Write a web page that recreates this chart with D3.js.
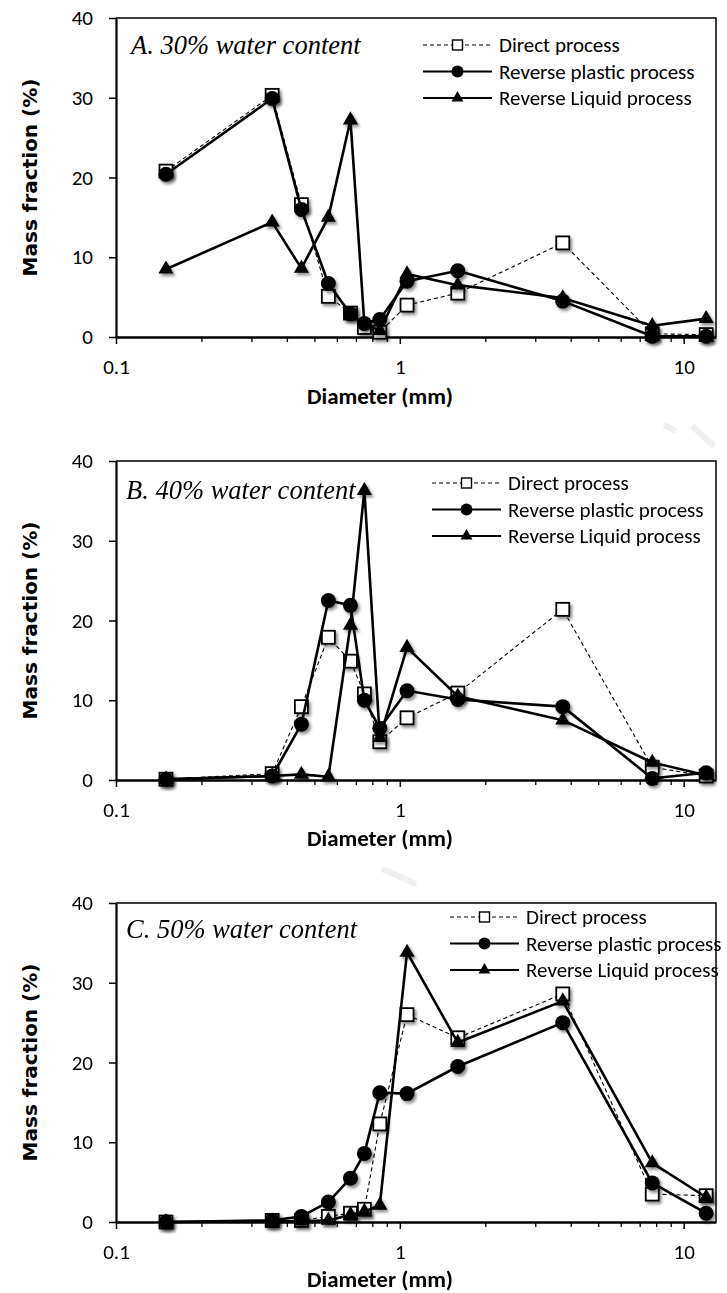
<!DOCTYPE html>
<html>
<head>
<meta charset="utf-8">
<script src="https://cdn.jsdelivr.net/npm/d3@7"></script>
<style>
  body { margin: 0; background: #fff; }
  svg text { font-family: Carlito, Lato, "Open Sans", sans-serif; fill: #000; }
</style>
</head>
<body>
<div id="chart"></div>
<script>
// sieve diameters (mm) shared by all three panels
const diameters = [0.15, 0.355, 0.45, 0.56, 0.67, 0.75, 0.85, 1.06, 1.6, 3.75, 7.75, 12];

const seriesNames = ["Direct process", "Reverse plastic process", "Reverse Liquid process"];
const panelTitles = ["A. 30% water content", "B. 40% water content", "C. 50% water content"];

// A. 30% water content
const directA  = [20.8, 30.3, 16.6, 5.1, 3.0, 1.2, 0.6, 4.0, 5.5, 11.8, 0.4, 0.3];
const plasticA = [20.4, 29.9, 16.0, 6.7, 2.9, 1.7, 2.2, 7.0, 8.3, 4.5, 0.1, 0.1];
const liquidA  = [8.5, 14.4, 8.6, 15.0, 27.2, 1.7, 0.8, 7.9, 6.5, 4.9, 1.4, 2.3];

// B. 40% water content
const directB  = [0.1, 0.8, 9.2, 17.9, 14.9, 10.8, 4.8, 7.8, 10.9, 21.4, 1.6, 0.5];
const plasticB = [0.1, 0.5, 7.0, 22.5, 21.9, 10.0, 6.5, 11.2, 10.1, 9.2, 0.2, 0.9];
const liquidB  = [0.1, 0.5, 0.7, 0.4, 19.4, 36.3, 5.3, 16.6, 10.5, 7.5, 2.2, 0.6];

// C. 50% water content
const directC  = [0.0, 0.2, 0.2, 0.7, 1.1, 1.6, 12.3, 26.0, 23.1, 28.6, 3.5, 3.3];
const plasticC = [0.0, 0.2, 0.7, 2.5, 5.5, 8.6, 16.2, 16.1, 19.5, 25.0, 4.9, 1.1];
const liquidC  = [0.0, 0.1, 0.1, 0.2, 0.9, 1.3, 2.1, 33.8, 22.5, 27.7, 7.4, 3.1];

const yTicks = [0, 10, 20, 30, 40];
const xMajorTicks = [0.1, 1, 10];
const xMinorTicks = [0.2, 0.3, 0.4, 0.5, 0.6, 0.7, 0.8, 0.9, 2, 3, 4, 5, 6, 7, 8, 9];

const panels = [
  {title: panelTitles[0], series: [directA, plasticA, liquidA]},
  {title: panelTitles[1], series: [directB, plasticB, liquidB]},
  {title: panelTitles[2], series: [directC, plasticC, liquidC]}
];

// layout (pixels)
const W = 727, H = 1293;
const plotLeft = 116, plotRight = 716, plotH = 319;
const panelTop = [18, 461, 903];
const legendX = [423, 432, 450];     // start of legend line sample
const legendY = [27, 22, 14];        // first legend row, from panel top
const noteY = [27, 29, 26];
const noteX = [131, 126, 126];
const titleOffset = [59, 58, 57];    // "Diameter (mm)" below the axis

const svg = d3.select("#chart").append("svg")
  .attr("width", W).attr("height", H)
  .attr("viewBox", `0 0 ${W} ${H}`);

// soft shadow like the excel markers
const defs = svg.append("defs");
defs.append("filter").attr("id", "shadow")
  .attr("x", "-50%").attr("y", "-50%").attr("width", "200%").attr("height", "200%")
  .append("feDropShadow")
  .attr("dx", 2).attr("dy", 2.5).attr("stdDeviation", 1.6)
  .attr("flood-color", "#000").attr("flood-opacity", 0.45);

// faint watermark strokes
svg.append("path").attr("d", "M664,425 L676,431 M692,426 L714,446")
  .attr("stroke", "#f0f0f0").attr("stroke-width", 6).attr("fill", "none");
svg.append("path").attr("d", "M382,869 L416,884")
  .attr("stroke", "#f0f0f0").attr("stroke-width", 6).attr("fill", "none");

const x = d3.scaleLog().domain([0.1, 13]).range([plotLeft, plotRight]);

const triangle = d3.symbol().type(d3.symbolTriangle).size(100);
const triangleSmall = d3.symbol().type(d3.symbolTriangle).size(62);

function drawMarkers(g, data, kind) {
  const m = g.append("g").attr("filter", "url(#shadow)");
  if (kind === 0) {
    m.selectAll("rect").data(data).join("rect")
      .attr("x", d => x(d.d) - 6.5).attr("y", d => d.yy - 6.5)
      .attr("width", 13).attr("height", 13)
      .attr("fill", "#fff").attr("stroke", "#000").attr("stroke-width", 1.8);
  } else if (kind === 1) {
    m.selectAll("circle").data(data).join("circle")
      .attr("cx", d => x(d.d)).attr("cy", d => d.yy).attr("r", 7.5)
      .attr("fill", "#000");
  } else {
    m.selectAll("path").data(data).join("path")
      .attr("d", triangle)
      .attr("transform", d => `translate(${x(d.d)},${d.yy})`)
      .attr("fill", "#000");
  }
}

panels.forEach((p, i) => {
  const top = panelTop[i], bottom = top + plotH;
  const y = d3.scaleLinear().domain([0, 40]).range([bottom, top]);
  const g = svg.append("g");

  // plot border (top + right)
  g.append("path")
    .attr("d", `M${plotLeft},${top} H${plotRight} V${bottom}`)
    .attr("fill", "none").attr("stroke", "#000").attr("stroke-width", 1.5);

  // y axis
  const yAxis = g.append("g").attr("transform", `translate(${plotLeft},0)`)
    .call(d3.axisLeft(y).tickValues(yTicks).tickSize(7).tickSizeOuter(0).tickPadding(16));
  yAxis.select(".domain").attr("stroke-width", 2.2);
  yAxis.selectAll(".tick line").attr("stroke-width", 1.5);
  yAxis.selectAll("text").style("font-size", "21px");

  // x axis
  const xAxis = g.append("g").attr("transform", `translate(0,${bottom})`)
    .call(d3.axisBottom(x).tickValues(xMajorTicks).tickSize(7).tickSizeOuter(0).tickPadding(15)
      .tickFormat(d => d3.format("")(d)));
  xAxis.select(".domain").attr("stroke-width", 2.4);
  xAxis.selectAll(".tick line").attr("stroke-width", 1.5);
  xAxis.selectAll("text").style("font-size", "21px");

  const xMinor = g.append("g").attr("transform", `translate(0,${bottom})`)
    .call(d3.axisBottom(x).tickValues(xMinorTicks).tickSize(5).tickSizeOuter(0).tickFormat(""));
  xMinor.select(".domain").remove();
  xMinor.selectAll(".tick line").attr("stroke-width", 1.3);

  // axis titles
  g.append("text")
    .attr("transform", `translate(30,${(top + bottom) / 2}) rotate(-90)`)
    .attr("text-anchor", "middle").attr("dy", "0.35em")
    .style("font-family", "'DejaVu Sans', Verdana, sans-serif")
    .style("font-weight", "bold").style("font-size", "20px")
    .text("Mass fraction (%)");

  g.append("text")
    .attr("x", 380).attr("y", bottom + titleOffset[i])
    .attr("text-anchor", "middle").attr("dy", "0.33em")
    .style("font-weight", "bold").style("font-size", "23px")
    .text("Diameter (mm)");

  // series: line then markers, in excel order
  p.series.forEach((vals, k) => {
    const data = diameters.map((d, j) => ({d: d, v: vals[j], yy: y(vals[j])}));
    const line = d3.line().x(d => x(d.d)).y(d => y(d.v));
    g.append("path").datum(data)
      .attr("d", line)
      .attr("fill", "none").attr("stroke", "#000")
      .attr("stroke-width", k === 0 ? 1.1 : 2.6)
      .attr("stroke-dasharray", k === 0 ? "4,3" : null)
      .attr("stroke-linejoin", "round");
    drawMarkers(g, data, k);
  });

  // panel note
  g.append("text")
    .attr("x", noteX[i]).attr("y", top + noteY[i]).attr("dy", "0.35em")
    .style("font-family", "'Liberation Serif', 'Times New Roman', serif")
    .style("font-style", "italic").style("font-size", "26.5px")
    .text(p.title);

  // legend
  const lg = g.append("g");
  seriesNames.forEach((name, k) => {
    const ly = top + legendY[i] + k * 26.5;
    const lx = legendX[i];
    lg.append("line")
      .attr("x1", lx).attr("x2", lx + 69).attr("y1", ly).attr("y2", ly)
      .attr("stroke", "#000")
      .attr("stroke-width", k === 0 ? 1.1 : 2.2)
      .attr("stroke-dasharray", k === 0 ? "4,3" : null);
    const mx = lx + 34.5;
    if (k === 0) {
      lg.append("rect").attr("x", mx - 5).attr("y", ly - 5).attr("width", 10).attr("height", 10)
        .attr("fill", "#fff").attr("stroke", "#000").attr("stroke-width", 1.4);
    } else if (k === 1) {
      lg.append("circle").attr("cx", mx).attr("cy", ly).attr("r", 6).attr("fill", "#000");
    } else {
      lg.append("path").attr("d", triangleSmall).attr("transform", `translate(${mx},${ly})`).attr("fill", "#000");
    }
    lg.append("text")
      .attr("x", lx + 76).attr("y", ly).attr("dy", "0.35em")
      .style("font-size", "21px")
      .text(name);
  });
});
</script>
</body>
</html>
